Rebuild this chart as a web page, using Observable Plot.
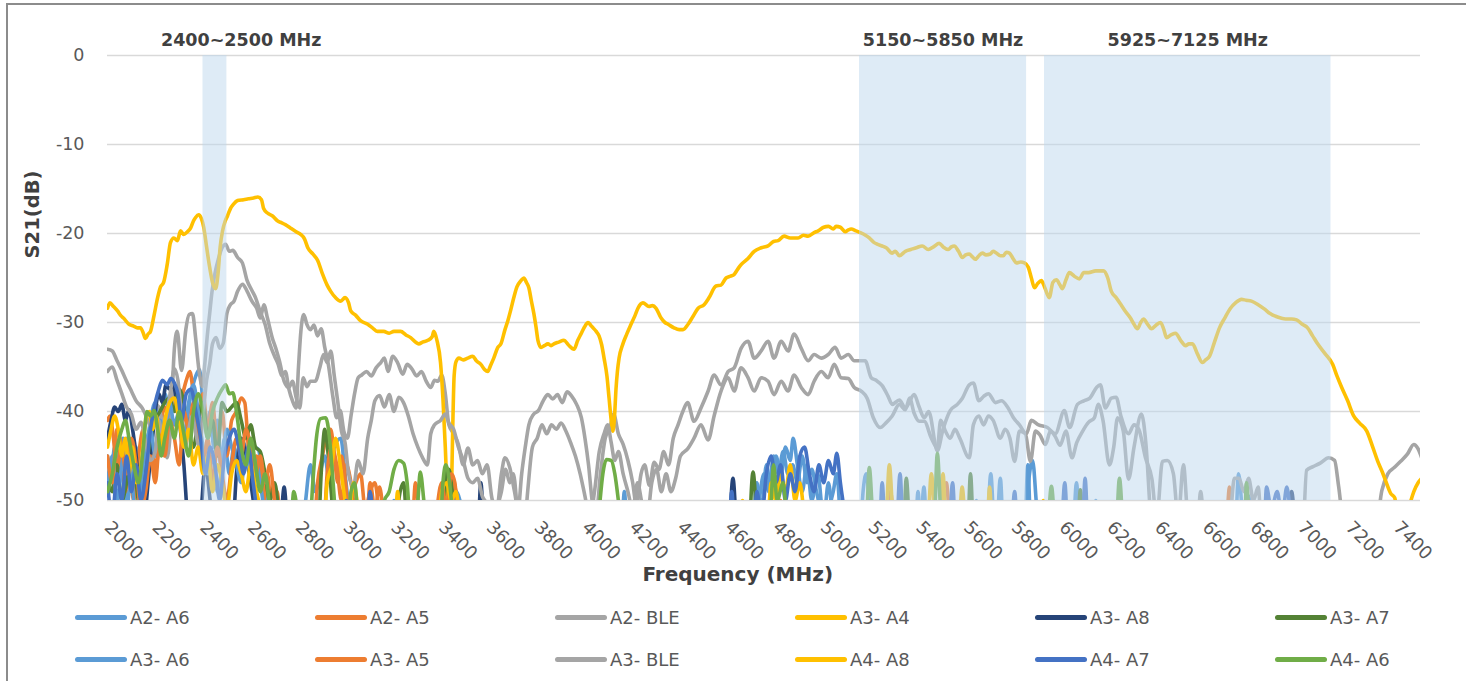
<!DOCTYPE html>
<html><head><meta charset="utf-8">
<script src="https://cdn.jsdelivr.net/npm/d3@7"></script>
<script src="https://cdn.jsdelivr.net/npm/@observablehq/plot@0.6"></script>
<style>
body{margin:0;background:#fff;font-family:"DejaVu Sans",sans-serif;}
#frame{position:absolute;left:6px;top:3px;width:1470px;height:700px;border-left:2px solid #8c8c8c;border-top:2px solid #8c8c8c;}
#chart{position:absolute;left:0;top:0;}
#legend{position:absolute;left:0;top:596px;width:1466px;height:84px;}
.item{position:absolute;display:flex;align-items:center;font-size:18px;color:#595959;height:24px;white-space:pre;}
.sw{width:52px;height:5px;border-radius:3px;margin-right:3px;}
</style></head><body>
<div id="frame"></div>
<div id="chart"></div>
<div id="legend"></div>
<script>
// ---------- data ----------
const seriesNames = ["A2- A6","A2- A5","A2- BLE","A3- A4","A3- A8","A3- A7","A3- A6","A3- A5","A3- BLE","A4- A8","A4- A7","A4- A6"];
const seriesColors = ["#5B9BD5","#ED7D31","#A5A5A5","#FFC000","#264478","#548235","#5B9BD5","#ED7D31","#A5A5A5","#FFC000","#4472C4","#70AD47"];
const xTicks = d3.range(2000, 7401, 200);
const yTicks = [0,-10,-20,-30,-40,-50];
const bands = [
  {start:2400, end:2500, label:"2400~2500 MHz"},
  {start:5150, end:5850, label:"5150~5850 MHz"},
  {start:5925, end:7125, label:"5925~7125 MHz"}
];
const yTitle = "S21(dB)";
const xTitle = "Frequency (MHz)";

// [frequency MHz, S21 dB]  (values below -50 fall outside the axis)
const A3_A4 = [[2000,-28.4],[2010,-27.8],[2025,-28.2],[2042,-28.7],[2055,-29.2],[2067,-29.5],[2090,-30.2],[2109,-30.4],[2125,-30.6],[2138,-30.6],[2150,-31.2],[2159,-31.8],[2170,-31.3],[2180,-31.0],[2195,-29.2],[2210,-27.2],[2222,-26.0],[2235,-25.5],[2250,-23.5],[2264,-21.0],[2278,-20.5],[2293,-20.8],[2306,-19.7],[2319,-20.1],[2335,-19.8],[2348,-19.4],[2360,-18.6],[2369,-18.2],[2382,-17.9],[2393,-18.3],[2403,-19.3],[2415,-21.5],[2428,-23.8],[2440,-25.5],[2453,-26.2],[2463,-24.5],[2472,-21.5],[2482,-19.7],[2493,-18.6],[2503,-18.0],[2515,-17.2],[2528,-16.7],[2545,-16.3],[2570,-16.2],[2590,-16.1],[2612,-16.0],[2630,-15.9],[2645,-16.2],[2654,-17.2],[2670,-17.7],[2690,-18.0],[2713,-18.6],[2730,-18.8],[2745,-19.0],[2767,-19.4],[2790,-19.8],[2809,-20.1],[2825,-20.6],[2839,-21.6],[2860,-22.3],[2880,-23.0],[2900,-24.5],[2920,-25.8],[2935,-26.5],[2955,-27.2],[2977,-27.6],[2995,-27.2],[3010,-27.8],[3019,-28.7],[3040,-29.2],[3060,-29.8],[3090,-30.2],[3110,-30.6],[3130,-31.0],[3157,-31.0],[3180,-31.2],[3200,-31.0],[3228,-31.0],[3250,-31.4],[3270,-31.7],[3290,-32.2],[3304,-32.4],[3320,-32.2],[3342,-32.0],[3360,-31.6],[3367,-31.0],[3380,-32.0],[3395,-34.5],[3405,-38.5],[3415,-44],[3424,-50],[3432,-53],[3440,-50],[3446,-42],[3452,-36.0],[3460,-34.4],[3472,-34.0],[3490,-34.2],[3509,-34.0],[3530,-33.8],[3545,-34.3],[3564,-34.7],[3580,-35.3],[3593,-35.5],[3605,-34.8],[3618,-34.0],[3635,-32.8],[3648,-32.4],[3665,-30.8],[3677,-29.8],[3690,-28.5],[3702,-27.2],[3715,-26.0],[3732,-25.3],[3744,-25.0],[3755,-25.5],[3765,-26.1],[3775,-27.5],[3786,-29.0],[3795,-30.5],[3803,-32.0],[3816,-32.8],[3830,-32.6],[3845,-32.4],[3858,-32.6],[3870,-32.4],[3890,-32.2],[3912,-32.0],[3930,-32.5],[3954,-33.0],[3970,-32.0],[3983,-31.3],[3998,-30.5],[4013,-30.0],[4024,-30.3],[4034,-30.6],[4047,-31.0],[4059,-31.5],[4070,-32.5],[4080,-34.0],[4092,-36.0],[4101,-38.5],[4110,-41],[4117,-42.2],[4124,-40.5],[4130,-37.5],[4136,-35.5],[4143,-34.0],[4159,-32.4],[4175,-31.3],[4193,-30.2],[4210,-29.2],[4222,-28.4],[4243,-27.8],[4268,-28.2],[4283,-28.1],[4298,-28.4],[4319,-29.5],[4335,-30.0],[4348,-30.2],[4373,-30.6],[4395,-30.8],[4411,-30.8],[4432,-30.2],[4453,-29.3],[4474,-28.4],[4499,-28.0],[4520,-27.2],[4549,-25.9],[4570,-25.8],[4591,-25.0],[4610,-24.8],[4625,-24.6],[4640,-24.0],[4654,-23.5],[4683,-22.8],[4709,-22.0],[4738,-21.6],[4767,-21.4],[4790,-20.9],[4809,-20.8],[4834,-20.3],[4860,-20.5],[4893,-20.5],[4915,-20.2],[4935,-20.3],[4960,-19.9],[4977,-19.7],[5000,-19.3],[5020,-19.2],[5040,-19.5],[5052,-19.2],[5070,-19.3],[5090,-19.8],[5103,-19.6],[5115,-19.5],[5135,-19.7],[5153,-19.9],[5175,-20.2],[5191,-20.5],[5210,-21.0],[5224,-21.2],[5245,-21.4],[5262,-21.6],[5287,-22.2],[5300,-22.0],[5317,-22.5],[5342,-22.0],[5365,-21.8],[5388,-21.6],[5413,-21.4],[5438,-21.8],[5460,-21.5],[5484,-21.1],[5500,-21.5],[5522,-21.8],[5535,-21.5],[5547,-21.4],[5565,-22.0],[5581,-22.7],[5595,-22.4],[5610,-22.3],[5622,-22.6],[5635,-22.9],[5650,-22.5],[5665,-22.2],[5680,-22.4],[5698,-22.3],[5710,-22.0],[5723,-22.2],[5740,-22.5],[5753,-22.5],[5765,-22.1],[5778,-22.2],[5795,-22.9],[5807,-23.3],[5825,-23.2],[5841,-23.3],[5857,-23.8],[5870,-25.0],[5883,-26.1],[5897,-25.6],[5912,-25.3],[5925,-26.0],[5945,-27.2],[5960,-25.5],[5975,-25.2],[5990,-25.8],[6000,-26.2],[6015,-25.2],[6029,-24.4],[6050,-24.8],[6071,-25.1],[6090,-24.4],[6109,-24.4],[6140,-24.2],[6172,-24.2],[6190,-25.0],[6205,-26.5],[6225,-27.2],[6243,-27.9],[6265,-28.8],[6285,-29.5],[6300,-30.2],[6314,-30.7],[6328,-30.0],[6340,-29.6],[6357,-30.2],[6373,-30.7],[6392,-30.3],[6411,-30.0],[6425,-30.8],[6436,-31.7],[6455,-31.4],[6474,-31.2],[6495,-32.0],[6516,-32.6],[6530,-32.4],[6545,-32.4],[6565,-33.5],[6587,-34.5],[6600,-34.2],[6616,-33.8],[6637,-32.2],[6658,-30.6],[6680,-29.5],[6704,-28.4],[6725,-27.8],[6750,-27.4],[6770,-27.5],[6792,-27.6],[6820,-28.0],[6847,-28.5],[6870,-29.0],[6893,-29.3],[6915,-29.5],[6935,-29.6],[6960,-29.6],[6981,-29.7],[7005,-30.2],[7027,-30.6],[7048,-31.5],[7069,-32.4],[7100,-33.5],[7132,-34.7],[7150,-36.0],[7170,-37.3],[7195,-38.8],[7220,-40.5],[7245,-41.3],[7275,-42.2],[7300,-44.0],[7321,-45.6],[7340,-46.8],[7354,-47.8],[7375,-49.2],[7392,-49.7],[7405,-52],[7421,-53],[7442,-52],[7460,-50],[7472,-49.0],[7490,-48.0],[7505,-47.5]];

const A2_BLE = [[2000,-33.0],[2020,-33.2],[2040,-34.3],[2060,-35.4],[2080,-36.6],[2100,-37.7],[2120,-38.8],[2145,-39.6],[2165,-40.7],[2185,-41.9],[2200,-39.2],[2215,-39.5],[2235,-42.5],[2250,-45.2],[2265,-41.5],[2280,-33],[2292,-31.0],[2310,-35.4],[2328,-30.8],[2342,-29.1],[2356,-29.0],[2369,-31.7],[2382,-35.1],[2398,-37.2],[2408,-34.5],[2418,-31.5],[2428,-29],[2438,-26.5],[2450,-24.5],[2465,-22.8],[2480,-21.6],[2495,-21.2],[2510,-22.0],[2525,-21.9],[2545,-22.7],[2565,-23.3],[2585,-25.3],[2605,-26.4],[2620,-27.2],[2640,-28.8],[2660,-30.2],[2680,-32.4],[2700,-33.8],[2715,-34.7],[2730,-36.0],[2745,-35.5],[2760,-37.5],[2775,-38.8],[2790,-39.6],[2800,-35],[2810,-31],[2822,-29.1],[2835,-30.2],[2850,-30.8],[2865,-30.3],[2880,-31.5],[2895,-30.7],[2910,-32.8],[2925,-34.7],[2945,-38.5],[2960,-40.7],[2975,-39.9],[2990,-42.2],[3005,-43.0],[3020,-40.5],[3035,-38],[3050,-36.2],[3065,-35.9],[3085,-35.5],[3105,-36.0],[3125,-35.1],[3145,-34.5],[3160,-34.0],[3175,-35.5],[3195,-33.8],[3215,-34.5],[3237,-35.8],[3255,-34.7],[3275,-35.2],[3295,-36.0],[3315,-35.5],[3335,-36.6],[3354,-37.3],[3370,-36.5],[3384,-36.6],[3400,-35.9],[3415,-38],[3430,-41.5],[3450,-42.5],[3470,-43.7],[3490,-46],[3510,-44.1],[3530,-46],[3550,-45.5],[3570,-47],[3590,-46],[3610,-49.7],[3630,-51],[3650,-47],[3665,-45.2],[3685,-46.3],[3705,-49],[3720,-51],[3735,-47],[3750,-44],[3765,-41.5],[3785,-40.3],[3805,-39.9],[3825,-38.8],[3845,-38.1],[3865,-38.6],[3885,-38.1],[3905,-39.0],[3925,-37.8],[3945,-38.3],[3965,-39.2],[3985,-40.7],[4000,-43],[4015,-46],[4030,-50],[4045,-52],[4065,-47],[4085,-43],[4105,-41.8],[4120,-40.3],[4140,-42.5],[4160,-43.7],[4180,-45.5],[4200,-48],[4215,-50.5],[4235,-47],[4250,-46],[4270,-48.3],[4290,-45.7],[4310,-46.5],[4330,-44.5],[4350,-46],[4370,-43],[4390,-41.5],[4410,-40],[4430,-39],[4457,-41.1],[4486,-39.6],[4516,-37.7],[4541,-35.9],[4570,-37.0],[4600,-35.5],[4625,-35.1],[4654,-32.9],[4683,-32.1],[4709,-34.0],[4738,-33.2],[4767,-32.1],[4792,-34.0],[4822,-32.1],[4851,-33.2],[4876,-31.3],[4906,-32.9],[4935,-34.3],[4960,-33.6],[4990,-34.0],[5019,-33.6],[5048,-32.8],[5073,-34.0],[5103,-33.6],[5128,-34.3],[5157,-34.3],[5174,-34.3],[5199,-36.2],[5220,-36.5],[5245,-37.1],[5270,-38.3],[5287,-39.2],[5317,-38.7],[5342,-39.6],[5379,-38.1],[5400,-39.5],[5421,-40.7],[5440,-40],[5476,-44.4],[5500,-42],[5530,-39.9],[5560,-39.2],[5581,-38.5],[5610,-37.0],[5627,-36.8],[5650,-38.8],[5670,-38.3],[5690,-38.0],[5720,-39],[5745,-38.8],[5770,-39.5],[5795,-40.7],[5820,-41.5],[5849,-42.5],[5870,-41],[5900,-41.5],[5937,-41.8],[5970,-42.5],[6008,-39.9],[6030,-41.8],[6063,-39.2],[6090,-38.8],[6115,-38.5],[6143,-37.3],[6159,-37.0],[6180,-39.6],[6205,-38.5],[6225,-38.4],[6245,-40.5],[6277,-42.5],[6300,-41.5],[6320,-42],[6348,-45.2],[6375,-47.6],[6395,-52],[6419,-45.6],[6440,-45.5],[6465,-47],[6485,-52],[6507,-46],[6525,-52],[6560,-56],[6579,-49],[6600,-55],[7000,-58],[7023,-46.6],[7050,-46.2],[7080,-45.8],[7115,-45.2],[7140,-45.5],[7157,-48.4],[7180,-53],[7300,-56],[7338,-48.9],[7363,-47],[7390,-46.3],[7417,-45.6],[7445,-44.8],[7472,-43.7],[7490,-44.2],[7505,-45.2]];

const A3_BLE = [[2000,-35.5],[2020,-35.0],[2040,-36.5],[2060,-38.0],[2080,-39.5],[2100,-40.3],[2120,-42],[2140,-41.2],[2160,-43.5],[2180,-45.5],[2200,-44.5],[2215,-41],[2230,-42.5],[2250,-40],[2265,-37.5],[2280,-35.2],[2295,-36.5],[2310,-40.5],[2325,-44],[2340,-42],[2355,-40.5],[2370,-42.5],[2385,-44],[2400,-40.5],[2415,-36.5],[2428,-34.7],[2440,-32.4],[2455,-31.7],[2470,-32.9],[2485,-32.3],[2500,-29],[2515,-28],[2530,-27.6],[2545,-26.5],[2566,-25.7],[2585,-26.5],[2605,-27.6],[2625,-28.4],[2640,-29.5],[2655,-28.0],[2670,-29.5],[2690,-31.7],[2705,-32.9],[2720,-34.3],[2740,-36.6],[2760,-37.3],[2775,-36.6],[2790,-38.4],[2805,-39.6],[2820,-36.2],[2835,-37.2],[2850,-36.6],[2870,-36.6],[2890,-35.0],[2905,-33.6],[2920,-34.5],[2935,-33.2],[2950,-36],[2965,-39],[2980,-42.2],[2995,-43.5],[3010,-47],[3030,-48.5],[3050,-45.5],[3070,-47],[3090,-43],[3105,-41],[3120,-38.8],[3140,-38.2],[3160,-39.5],[3180,-38.1],[3200,-40],[3220,-38.4],[3240,-39.0],[3260,-40.5],[3280,-42.5],[3300,-44],[3320,-45.2],[3340,-46],[3354,-42.5],[3370,-41.5],[3395,-41.0],[3415,-40.3],[3430,-41.3],[3450,-42],[3470,-44],[3490,-45.5],[3510,-47.5],[3530,-48],[3550,-47.5],[3570,-49.5],[3590,-50.5],[3610,-53],[3630,-51],[3650,-49],[3668,-46.5],[3685,-48],[3700,-47],[3720,-52],[3740,-55],[3760,-49],[3780,-44],[3800,-43],[3820,-41.5],[3840,-42.5],[3860,-41.5],[3880,-42],[3900,-41.3],[3920,-42.2],[3940,-43.5],[3960,-45],[3980,-47],[4000,-49.5],[4020,-52],[4040,-49],[4060,-44.5],[4080,-42.5],[4095,-41.5],[4110,-43.5],[4125,-45.5],[4140,-44.5],[4160,-47],[4180,-49],[4200,-51],[4220,-48],[4240,-50.5],[4260,-52],[4280,-48],[4300,-46.5],[4320,-49],[4340,-47],[4360,-49],[4380,-47.5],[4400,-45],[4430,-44.2],[4457,-43],[4486,-41.5],[4516,-43.2],[4541,-40.5],[4570,-37.7],[4600,-36.2],[4625,-37.7],[4654,-35.1],[4683,-36.2],[4709,-37.7],[4738,-36.2],[4767,-36.6],[4792,-38.1],[4822,-36.6],[4851,-37.7],[4876,-35.9],[4906,-37.3],[4935,-38.1],[4960,-36.6],[4990,-35.5],[5019,-36.2],[5044,-34.7],[5073,-36.2],[5103,-36.3],[5128,-37.3],[5157,-37.7],[5182,-38.5],[5208,-40.7],[5237,-41.8],[5260,-41.3],[5287,-40.5],[5317,-39.2],[5342,-39.8],[5360,-38.5],[5379,-40.2],[5400,-41.1],[5421,-41.1],[5451,-43],[5476,-44.1],[5490,-41.0],[5510,-42.2],[5530,-43],[5550,-42],[5570,-43],[5610,-45.2],[5627,-41.5],[5650,-40.5],[5670,-41.5],[5690,-40.5],[5710,-41],[5740,-43],[5760,-42],[5780,-43],[5800,-45.6],[5820,-42.2],[5845,-42.5],[5866,-45.6],[5887,-42.2],[5905,-42.6],[5929,-43.7],[5950,-42.2],[5970,-42.8],[5990,-43.8],[6015,-42.2],[6040,-45.2],[6060,-43.5],[6085,-42.2],[6110,-41.2],[6134,-40.7],[6150,-39.2],[6170,-41],[6197,-46],[6215,-44],[6231,-40.7],[6255,-42.2],[6277,-47.6],[6300,-44],[6331,-40.3],[6350,-43.7],[6370,-52],[6400,-58],[6690,-56],[6721,-47.5],[6740,-47.5],[6760,-49],[6780,-47.5],[6800,-50],[6820,-48.5],[6840,-56],[7500,-60]];

const A2_A6 = [[2000,-45],[2015,-47],[2030,-44],[2050,-48],[2065,-43],[2080,-51],[2100,-46],[2120,-44],[2140,-49],[2160,-45],[2180,-41],[2200,-39],[2220,-42],[2240,-38],[2260,-40],[2275,-37.5],[2290,-39],[2310,-38.5],[2330,-41],[2350,-38],[2370,-36],[2385,-35.3],[2400,-39],[2415,-42],[2430,-40],[2445,-44],[2460,-41],[2475,-46],[2490,-43],[2510,-47],[2530,-44],[2550,-46],[2570,-43.5],[2590,-45],[2610,-44],[2630,-44.2],[2650,-47],[2665,-50],[2680,-55],[2800,-58],[2830,-50],[2850,-46],[2870,-49],[2890,-47],[2910,-45],[2930,-48],[2950,-44],[2977,-43],[2995,-47],[3015,-52],[3040,-60],[3420,-56],[3440,-50],[3460,-49],[3480,-52],[3500,-60],[4150,-56],[4165,-49],[4180,-55],[4600,-60],[4700,-55],[4720,-48],[4740,-51],[4760,-46],[4780,-49],[4800,-45],[4820,-47],[4840,-44],[4860,-45.5],[4872,-43],[4890,-46],[4910,-49],[4930,-46],[4950,-50],[4975,-47],[5000,-52],[5020,-48],[5040,-53],[5080,-60],[5150,-55],[5165,-49],[5178,-47],[5195,-51],[5215,-55],[5380,-57],[5395,-49],[5410,-55],[5680,-56],[5700,-47],[5715,-53],[5840,-55],[5860,-47.5],[5875,-45.5],[5890,-50],[5905,-56],[6040,-56],[6059,-48],[6075,-55],[6120,-58],[6140,-50],[6155,-56],[6720,-56],[6738,-47],[6755,-52],[6770,-57],[7500,-60]];

const A2_A5 = [[2000,-41],[2010,-40.5],[2025,-43],[2040,-47],[2055,-44],[2075,-49],[2090,-46],[2110,-50],[2130,-45],[2150,-42],[2165,-46],[2185,-43],[2200,-47],[2220,-42],[2240,-39.5],[2255,-41],[2270,-38],[2290,-40],[2310,-38.5],[2330,-36.5],[2345,-35.5],[2360,-38],[2380,-41],[2400,-38],[2420,-42],[2440,-39],[2460,-44],[2480,-40],[2500,-45],[2520,-41],[2540,-40],[2560,-38.5],[2575,-39],[2590,-44],[2610,-48],[2625,-45],[2640,-46],[2655,-50],[2670,-47],[2690,-52],[2710,-49],[2730,-55],[2760,-60],[2860,-55],[2880,-48],[2900,-45],[2920,-42.5],[2935,-42],[2950,-45],[2965,-48],[2980,-45],[2995,-47.5],[3010,-51],[3040,-48],[3060,-47],[3080,-51],[3100,-49],[3120,-48],[3140,-52],[3160,-56],[3270,-57],[3290,-48],[3310,-52],[3400,-55],[3420,-48],[3440,-47],[3460,-49],[3480,-51],[3500,-60],[5470,-56],[5490,-50],[5514,-48],[5530,-54],[5560,-60],[6680,-56],[6700,-48.5],[6715,-53],[6740,-58],[7500,-60]];

const A3_A8 = [[2000,-43],[2015,-41],[2030,-39.5],[2045,-40],[2060,-39.2],[2075,-41],[2090,-39.8],[2105,-42],[2120,-45],[2135,-50],[2150,-53],[2170,-48],[2185,-44],[2200,-40],[2215,-38],[2230,-39],[2245,-37],[2260,-37.5],[2275,-37],[2290,-39],[2305,-42],[2320,-46],[2335,-52],[2360,-58],[2390,-52],[2410,-46],[2430,-50],[2450,-55],[2520,-55],[2540,-47],[2560,-43],[2580,-45],[2600,-48],[2620,-52],[2650,-60],[2720,-55],[2740,-48.5],[2760,-55],[3500,-60],[3550,-55],[3564,-48],[3580,-55],[4550,-60],[4600,-55],[4620,-47.5],[4640,-55],[4700,-58],[4720,-50],[4740,-55],[6930,-57],[6960,-49],[6985,-56],[7500,-60]];

const A3_A7 = [[2000,-47],[2020,-49],[2040,-46],[2060,-50],[2080,-48],[2100,-45],[2120,-48],[2140,-52],[2160,-47],[2180,-43],[2200,-41],[2220,-40],[2240,-39],[2260,-38.5],[2280,-40],[2300,-37.5],[2320,-39],[2340,-42],[2360,-44],[2380,-41],[2400,-39],[2420,-43],[2440,-41],[2460,-45],[2480,-39],[2500,-40],[2520,-39.5],[2540,-39],[2560,-41],[2580,-43],[2600,-41.5],[2620,-44],[2640,-44.5],[2660,-47],[2680,-50],[2700,-48],[2720,-52],[2740,-56],[2880,-55],[2895,-47],[2910,-42],[2925,-45],[2940,-50],[2960,-56],[3200,-57],[3220,-50],[3240,-48],[3260,-55],[3400,-56],[3417,-47],[3430,-46.5],[3445,-49],[3460,-54],[3490,-60],[4680,-57],[4704,-46.8],[4720,-52],[4740,-57],[5330,-57],[5346,-47.5],[5365,-55],[5600,-56],[5615,-47],[5630,-55],[6060,-56],[6075,-48.8],[6090,-56],[7500,-60]];

const A3_A6 = [[2000,-48],[2020,-45],[2040,-50],[2060,-46],[2080,-43],[2100,-47],[2120,-52],[2140,-48],[2160,-44],[2180,-42],[2200,-45],[2220,-41],[2240,-43],[2260,-39],[2280,-41.5],[2300,-40],[2320,-43],[2340,-39],[2360,-37],[2380,-40],[2400,-44],[2420,-47],[2440,-45],[2460,-49],[2480,-46],[2500,-42],[2520,-44],[2540,-46],[2560,-48],[2580,-45],[2600,-47],[2620,-45.5],[2640,-48],[2660,-52],[2700,-58],[3000,-58],[3040,-50],[3060,-54],[3180,-56],[3200,-50],[3215,-55],[3440,-57],[3460,-49],[3480,-50.5],[3500,-55],[4700,-58],[4730,-50],[4750,-47],[4770,-49],[4790,-45],[4810,-47],[4830,-44.5],[4850,-47],[4870,-46],[4890,-48],[4910,-45],[4930,-48],[4950,-46.5],[4970,-49],[5000,-52],[5040,-49],[5055,-47],[5070,-52],[5100,-58],[5400,-56],[5420,-48.5],[5435,-55],[5620,-57],[5640,-50],[5660,-55],[5720,-56],[5740,-47.5],[5755,-55],[5840,-56],[5855,-46],[5870,-55],[5940,-57],[5960,-50],[5980,-56],[6700,-60],[6760,-58],[6780,-49.5],[6800,-56],[7500,-60]];

const A3_A5 = [[2000,-45],[2020,-48],[2040,-42],[2060,-44],[2080,-47],[2100,-43],[2120,-46],[2140,-51],[2160,-49],[2180,-45],[2200,-48],[2220,-43],[2240,-45],[2260,-41],[2280,-43],[2300,-46],[2320,-40],[2340,-42],[2360,-39],[2380,-43],[2400,-46],[2420,-43],[2440,-48],[2460,-44],[2480,-47],[2500,-50],[2520,-46],[2540,-43],[2560,-45],[2580,-42],[2600,-44],[2620,-47],[2640,-45],[2660,-48],[2680,-46],[2700,-50],[2720,-53],[2760,-60],[2900,-56],[2920,-47],[2940,-44],[2960,-46],[2980,-50],[3000,-46],[3020,-48],[3040,-52],[3080,-56],[3100,-48],[3120,-51],[3140,-48.5],[3160,-53],[3200,-60],[3360,-57],[3380,-51],[3400,-48],[3420,-51],[3440,-47],[3455,-48],[3470,-53],[3500,-60],[4800,-58],[4820,-50],[4840,-55],[5260,-56],[5280,-49],[5300,-54],[6760,-56],[6780,-50],[6800,-56],[7500,-60]];

const A4_A8 = [[2000,-44],[2015,-42],[2030,-40.5],[2045,-42],[2060,-45],[2075,-43],[2090,-47],[2105,-44],[2120,-48],[2140,-46],[2160,-41],[2175,-40],[2190,-42],[2205,-40.5],[2220,-44],[2240,-41],[2260,-39],[2280,-38.5],[2300,-41],[2320,-44],[2340,-42],[2360,-46],[2380,-44],[2400,-47],[2420,-45],[2440,-49],[2460,-46],[2480,-48],[2500,-51],[2520,-47],[2540,-45.5],[2560,-47],[2580,-49],[2600,-46],[2620,-48.5],[2640,-51],[2660,-55],[2700,-60],[2900,-56],[2920,-48],[2940,-46],[2955,-43],[2975,-46],[2990,-49],[3010,-52],[3030,-48],[3050,-51],[3070,-55],[3200,-56],[3215,-49],[3230,-54],[3380,-56],[3400,-49],[3420,-48],[3440,-50],[3460,-49],[3480,-54],[3500,-60],[4640,-57],[4660,-50],[4680,-53],[4760,-55],[4780,-48],[4800,-50],[4820,-47],[4840,-49],[4860,-46],[4880,-50],[4900,-48],[4920,-52],[4960,-57],[5255,-56],[5275,-46],[5290,-52],[5305,-57],[5430,-56],[5451,-47],[5470,-54],[5480,-56],[5500,-47],[5515,-55],[5560,-56],[5580,-48.5],[5600,-55],[5680,-56],[5695,-48.5],[5710,-56],[5900,-57],[5920,-50],[5940,-56],[7500,-60]];

const A4_A7 = [[2000,-48],[2020,-52],[2040,-47],[2060,-50],[2080,-45],[2100,-49],[2120,-46],[2140,-50],[2160,-47],[2180,-42],[2200,-39],[2215,-37.5],[2230,-36.5],[2250,-37],[2265,-36.3],[2280,-36.8],[2295,-38],[2310,-41],[2330,-38],[2350,-37.5],[2370,-40],[2390,-43],[2410,-47],[2430,-44],[2450,-46],[2470,-50],[2490,-45],[2510,-43],[2530,-42],[2550,-44],[2570,-47],[2590,-44],[2610,-48],[2630,-52],[2660,-58],[2700,-60],[2980,-57],[3000,-50],[3020,-53],[3080,-56],[3100,-49],[3120,-54],[4560,-60],[4600,-56],[4615,-49],[4630,-55],[4700,-57],[4720,-49],[4740,-52],[4760,-47],[4780,-45],[4800,-48],[4820,-46],[4840,-50],[4860,-47],[4880,-49],[4900,-45],[4920,-44],[4940,-47],[4960,-49],[4980,-46],[5000,-48],[5020,-45.5],[5040,-47],[5055,-44.7],[5070,-48],[5090,-52],[5110,-57],[5170,-56],[5190,-50],[5210,-55],[5230,-56],[5245,-48],[5260,-55],[5300,-56],[5320,-47],[5335,-55],[5520,-56],[5540,-48],[5555,-55],[5780,-56],[5800,-49],[5815,-55],[5990,-56],[6010,-48],[6025,-55],[6080,-56],[6095,-47.5],[6110,-55],[6840,-57],[6855,-48.5],[6875,-51],[6900,-49],[6920,-52],[6940,-48.5],[6960,-53],[6980,-58],[7500,-60]];

const A4_A6 = [[2000,-49],[2020,-47],[2040,-44],[2060,-42],[2075,-41],[2090,-43],[2110,-46],[2130,-48],[2150,-44],[2165,-40],[2180,-40.5],[2195,-39.9],[2210,-42],[2225,-45],[2240,-43],[2260,-41],[2280,-43],[2300,-40],[2320,-42.5],[2340,-45],[2360,-40],[2380,-38],[2400,-40],[2420,-43],[2440,-40],[2460,-38.5],[2480,-37.5],[2495,-37],[2510,-38],[2525,-37.9],[2540,-40],[2560,-44],[2580,-46],[2600,-43],[2620,-46],[2640,-49],[2660,-47],[2680,-51],[2700,-55],[2760,-58],[2780,-49],[2800,-52],[2840,-56],[2860,-48],[2875,-43],[2893,-40.8],[2914,-40.7],[2930,-43],[2945,-48],[2960,-53],[3000,-56],[3020,-49],[3035,-48],[3050,-52],[3140,-57],[3160,-50],[3180,-49],[3200,-46.5],[3220,-45.5],[3240,-45.8],[3255,-48],[3270,-53],[3300,-50],[3310,-46.8],[3325,-50],[3345,-56],[3390,-55],[3405,-48],[3417,-46],[3435,-48.5],[3450,-53],[3480,-60],[4040,-58],[4060,-51],[4075,-47],[4090,-45.4],[4110,-45.5],[4125,-47],[4140,-50],[4160,-55],[4200,-60],[4760,-57],[4780,-50],[4790,-46],[4805,-50],[4830,-48],[4850,-53],[5175,-55],[5191,-46.3],[5210,-53],[5460,-55],[5476,-44.7],[5495,-53],[5930,-56],[5954,-48.4],[5975,-55],[6220,-56],[6239,-47.5],[6260,-55],[6760,-56],[6771,-48],[6790,-55],[7500,-60]];

const seriesPoints = [A2_A6, A2_A5, A2_BLE, A3_A4, A3_A8, A3_A7, A3_A6, A3_A5, A3_BLE, A4_A8, A4_A7, A4_A6];

// ---------- build ----------
const rows = seriesNames.flatMap((name, i) => seriesPoints[i].map(([f, v]) => ({series: name, f, v})));
const font = "'DejaVu Sans', sans-serif";

const chart = Plot.plot({
  width: 1466, height: 596,
  marginLeft: 107, marginRight: 46, marginTop: 55, marginBottom: 96,
  style: {fontFamily: font, background: "transparent", overflow: "visible"},
  x: {domain: [2000, 7500], axis: null},
  y: {domain: [-50, 0]},
  color: {domain: seriesNames, range: seriesColors},
  marks: [
    Plot.gridY(yTicks, {stroke: "#d9d9d9", strokeOpacity: 1, strokeWidth: 1.3}),
    Plot.line(rows, {x: "f", y: "v", z: "series", stroke: "series", strokeWidth: 3.6,
      curve: "monotone-x", clip: true, strokeLinejoin: "round", strokeLinecap: "round"}),
    Plot.rect(bands, {x1: "start", x2: "end", fill: "#bdd7ee", fillOpacity: 0.5}),
    Plot.axisY({ticks: yTicks, tickSize: 0, tickPadding: 23, fontSize: 17.5, color: "#595959", tickFormat: d => String(d), label: null}),
    Plot.text(xTicks, {x: d => d, frameAnchor: "bottom", dy: 24, rotate: 45, textAnchor: "start",
      lineAnchor: "middle", fontSize: 18, fill: "#595959", text: d => String(d)}),
    Plot.text(bands, {x: d => (d.start + d.end) / 2 + (d.end - d.start < 300 ? 110 : 0), text: "label",
      frameAnchor: "top", dy: -22, fontSize: 17.5, fontWeight: "bold", fill: "#404040"}),
    Plot.text([yTitle], {y: -22.8, frameAnchor: "left", dx: -75, rotate: -90, text: d => d,
      fontSize: 19.5, fontWeight: "bold", fill: "#404040"}),
    Plot.text([xTitle], {x: 4640, frameAnchor: "bottom", dy: 80, text: d => d,
      fontSize: 20, fontWeight: "bold", fill: "#404040"})
  ]
});
document.getElementById("chart").appendChild(chart);

// legend (HTML, 2 rows x 6 columns)
const legend = document.getElementById("legend");
seriesNames.forEach((name, i) => {
  const row = Math.floor(i / 6), col = i % 6;
  const item = document.createElement("div");
  item.className = "item";
  item.style.left = (75 + 240 * col) + "px";
  item.style.top = (9 + 42 * row) + "px";
  const sw = document.createElement("span");
  sw.className = "sw";
  sw.style.background = seriesColors[i];
  const label = document.createElement("span");
  label.textContent = name;
  item.appendChild(sw); item.appendChild(label);
  legend.appendChild(item);
});
</script></body></html>
